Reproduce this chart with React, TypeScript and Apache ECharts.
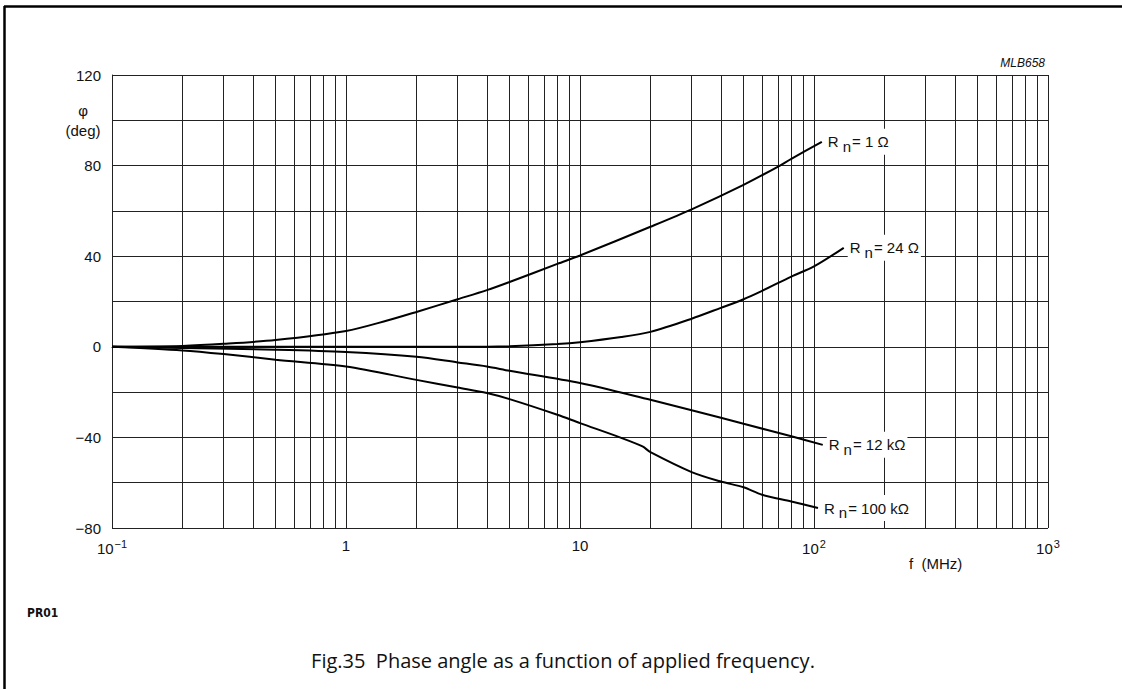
import React, { useEffect, useRef } from "react";
import * as echarts from "echarts";

// Frequencies (MHz) and phase angles (deg)
const rn1Freq = [0.1, 0.2, 0.3, 0.5, 1, 1.5, 2, 3, 4, 5, 8, 10, 20, 30, 50, 70, 80, 108];
const rn1Deg = [0, 0.4, 1.3, 3, 7, 11.6, 15.4, 21, 25, 28.6, 36.6, 40.3, 53, 60.7, 71.5, 79.5, 83, 90.5];

const rn24Freq = [0.1, 1, 4, 5, 8, 10, 15, 20, 30, 40, 50, 60, 80, 100, 134];
const rn24Deg = [0, 0, 0, 0.2, 1.2, 2, 4.3, 6.6, 12.4, 17.2, 21, 24.7, 31, 35.5, 43.7];

const rn12kFreq = [0.1, 0.2, 0.5, 1, 2, 3, 4, 5, 10, 20, 30, 40, 50, 80, 109];
const rn12kDeg = [0, -0.5, -1.3, -2.3, -4.4, -6.9, -8.7, -10.6, -16, -23.4, -28, -31.3, -34, -39.5, -43.3];

const rn100kFreq = [0.1, 0.2, 0.3, 0.5, 1, 2, 3, 4, 5, 8, 10, 15, 18.5, 20, 30, 40, 50, 60, 80, 104];
const rn100kDeg = [0, -1.6, -3.2, -5.7, -8.7, -14.6, -18, -20.4, -23.1, -30, -33.7, -40.2, -44, -46.5, -55.3, -59.5, -62, -65.3, -68.3, -71.2];

const seriesLabels = ["= 1 Ω", "= 24 Ω", "= 12 kΩ", "= 100 kΩ"];

// minor vertical grid lines (2..9 in each decade)
const decades = [0.1, 1, 10, 100];
const minorMultipliers = [2, 3, 4, 5, 6, 7, 8, 9];

const yTickLabels = [-80, -40, 0, 40, 80, 120];

const FONT = "Liberation Sans, Arial, sans-serif";
const GRID_COLOR = "#222";
const TEXT = "#111";

function zip(f: number[], d: number[]) {
  return f.map((x, i) => [x, d[i]]);
}

export default function App() {
  const ref = useRef<HTMLDivElement>(null);

  useEffect(() => {
    if (!ref.current) return;
    const chart = echarts.init(ref.current, undefined, { renderer: "svg" });

    const minorLines: any[] = [];
    decades.forEach((d) =>
      minorMultipliers.forEach((m) => minorLines.push({ xAxis: +(d * m).toPrecision(3) }))
    );

    const labelRich = {
      R: { fontSize: 15, fontFamily: FONT, color: TEXT },
      n: { fontSize: 15, fontFamily: FONT, color: TEXT, padding: [9, 1, 0, 4] },
      t: { fontSize: 15, fontFamily: FONT, color: TEXT },
    };

    const makeSeries = (data: number[][], label: string, extra: any = {}) => ({
      type: "line",
      data,
      smooth: 0.3,
      symbol: "none",
      lineStyle: { color: "#000", width: 2 },
      z: 5,
      endLabel: {
        show: true,
        distance: 4,
        formatter: () => `{R|R}{n|n}{t|${label}}`,
        rich: labelRich,
        backgroundColor: "#fff",
        padding: [1, 2, 1, 2],
      },
      ...extra,
    });

    const supMap: Record<string, string> = { "-1": "−1", "2": "2", "3": "3" };

    chart.setOption({
      animation: false,
      grid: { left: 112, right: 74, top: 75, bottom: 161 },
      xAxis: {
        type: "log",
        logBase: 10,
        min: 0.1,
        max: 1000,
        axisLine: { show: true, lineStyle: { color: GRID_COLOR, width: 1 } },
        axisTick: { show: false },
        splitLine: { show: true, lineStyle: { color: GRID_COLOR, width: 1 } },
        axisLabel: {
          margin: 10,
          formatter: (v: number) => {
            const e = Math.round(Math.log10(v));
            if (e === 0) return "{b|1}";
            if (e === 1) return "{b|10}";
            return `{b|10}{s|${supMap[String(e)] ?? e}}`;
          },
          rich: {
            b: { fontSize: 15, fontFamily: FONT, color: TEXT },
            s: { fontSize: 11, fontFamily: FONT, color: TEXT, padding: [0, 0, 9, 1] },
          },
        },
      },
      yAxis: {
        type: "value",
        min: -80,
        max: 120,
        interval: 20,
        axisLine: { show: true, lineStyle: { color: GRID_COLOR, width: 1 } },
        axisTick: { show: false },
        splitLine: { show: true, lineStyle: { color: GRID_COLOR, width: 1 } },
        axisLabel: {
          margin: 11,
          fontSize: 15,
          fontFamily: FONT,
          color: TEXT,
          formatter: (v: number) =>
            yTickLabels.includes(v) ? (v < 0 ? "−" + Math.abs(v) : String(v)) : "",
        },
      },
      series: [
        makeSeries(zip(rn1Freq, rn1Deg), seriesLabels[0], {
          markLine: {
            silent: true,
            symbol: ["none", "none"],
            label: { show: false },
            lineStyle: { color: GRID_COLOR, width: 1, type: "solid" },
            emphasis: { disabled: true },
            data: minorLines,
            z: 1,
          },
        }),
        makeSeries(zip(rn24Freq, rn24Deg), seriesLabels[1]),
        makeSeries(zip(rn12kFreq, rn12kDeg), seriesLabels[2]),
        makeSeries(zip(rn100kFreq, rn100kDeg), seriesLabels[3]),
      ],
      graphic: [
        { type: "line", shape: { x1: 4.5, y1: 6, x2: 4.5, y2: 689 }, style: { stroke: "#000", lineWidth: 2.5 } },
        { type: "line", shape: { x1: 4, y1: 6.5, x2: 1122, y2: 6.5 }, style: { stroke: "#000", lineWidth: 2.5 } },
        {
          type: "text",
          x: 83,
          y: 110,
          style: { text: "φ", fontSize: 15, fontFamily: FONT, fill: TEXT, align: "center", verticalAlign: "middle" },
        },
        {
          type: "text",
          x: 83,
          y: 130,
          style: { text: "(deg)", fontSize: 15, fontFamily: FONT, fill: TEXT, align: "center", verticalAlign: "middle" },
        },
        {
          type: "text",
          x: 909,
          y: 563,
          style: { text: "f  (MHz)", fontSize: 15, fontFamily: FONT, fill: TEXT, align: "left", verticalAlign: "middle" },
        },
        {
          type: "text",
          x: 1045,
          y: 63,
          style: {
            text: "MLB658",
            fontSize: 12,
            fontStyle: "italic",
            fontFamily: FONT,
            fill: TEXT,
            align: "right",
            verticalAlign: "middle",
          },
        },
        {
          type: "text",
          x: 27,
          y: 613,
          style: {
            text: "PR01",
            fontSize: 12,
            fontWeight: "bold",
            fontFamily: "Liberation Sans Narrow, DejaVu Sans Condensed, Liberation Sans, sans-serif",
            fill: TEXT,
            align: "left",
            verticalAlign: "middle",
          },
        },
        {
          type: "text",
          x: 563,
          y: 660,
          style: {
            text: "Fig.35  Phase angle as a function of applied frequency.",
            fontSize: 20,
            fontFamily: "Open Sans, Lato, sans-serif",
            fill: TEXT,
            align: "center",
            verticalAlign: "middle",
          },
        },
      ],
    });

    return () => chart.dispose();
  }, []);

  return (
    <div
      ref={ref}
      style={{ position: "fixed", left: 0, top: 0, width: 1122, height: 689, background: "#fff" }}
    />
  );
}
